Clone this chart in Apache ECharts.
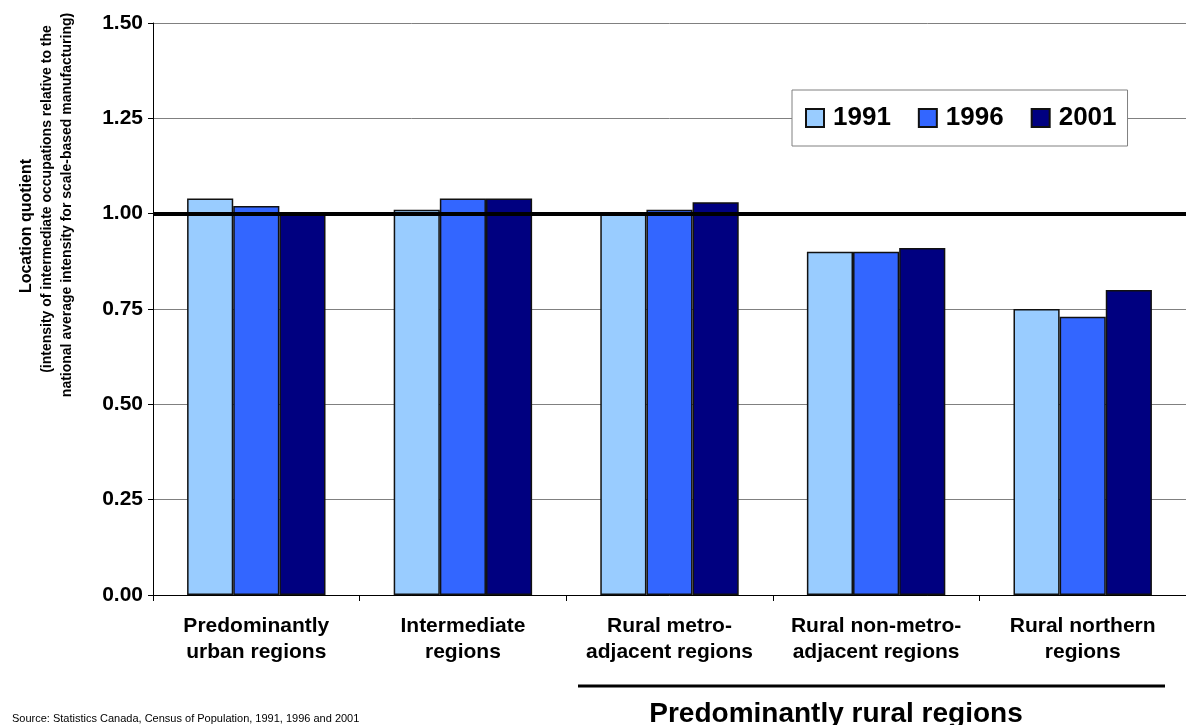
<!DOCTYPE html>
<html>
<head>
<meta charset="utf-8">
<script src="https://cdn.jsdelivr.net/npm/echarts@6/dist/echarts.min.js"></script>
<style>
  html, body { margin: 0; padding: 0; background: #ffffff; }
  #chart { width: 1186px; height: 725px; }
</style>
</head>
<body>
<div id="chart"></div>
<script>
// Region types along the horizontal axis
const categories = [
  'Predominantly\nurban regions',
  'Intermediate\nregions',
  'Rural metro-\nadjacent regions',
  'Rural non-metro-\nadjacent regions',
  'Rural northern\nregions'
];

// Location quotients by census year
const years = ['1991', '1996', '2001'];
const lq1991 = [1.04, 1.01, 1.00, 0.90, 0.75];
const lq1996 = [1.02, 1.04, 1.01, 0.90, 0.73];
const lq2001 = [1.00, 1.04, 1.03, 0.91, 0.80];

// National average reference
const nationalAverage = 1.00;

const yAxisTitleLines = [
  'Location quotient',
  '(intensity of intermediate occupations relative to the',
  'national average intensity for scale-based manufacturing)'
];
const groupTitle = 'Predominantly rural regions';
const sourceNote = 'Source: Statistics Canada, Census of Population, 1991, 1996 and 2001';

const colors = ['#99CCFF', '#3366FF', '#000080'];
const FONT = 'Arial, "Liberation Sans", Helvetica, sans-serif';

const chart = echarts.init(document.getElementById('chart'), null, { renderer: 'canvas' });

function barSeries(name, data, color, withRef) {
  const s = {
    name: name,
    type: 'bar',
    data: data,
    barGap: '0%',
    barCategoryGap: '33%',
    itemStyle: { color: color, borderColor: '#111111', borderWidth: 1.5 },
    emphasis: { disabled: true }
  };
  if (withRef) {
    s.markLine = {
      silent: true,
      symbol: ['none', 'none'],
      label: { show: false },
      lineStyle: { color: '#000000', width: 4, type: 'solid' },
      z: 10,
      data: [{ yAxis: nationalAverage }]
    };
  }
  return s;
}

// Rotated y-axis title, one text element per line
const titleLayout = [
  { x: 27, y: 226, font: 'bold 16px ' + FONT },
  { x: 47, y: 199, font: 'bold 14px ' + FONT },
  { x: 67, y: 205, font: 'bold 14px ' + FONT }
];
const yTitleGraphics = yAxisTitleLines.map((line, i) => ({
  type: 'text',
  x: titleLayout[i].x,
  y: titleLayout[i].y,
  rotation: Math.PI / 2,
  style: {
    text: line,
    font: titleLayout[i].font,
    fill: '#000000',
    textAlign: 'center',
    textVerticalAlign: 'middle'
  }
}));

const option = {
  animation: false,
  backgroundColor: '#ffffff',
  textStyle: { fontFamily: FONT },
  grid: { left: 153, top: 23, width: 1040, height: 572, containLabel: false },
  legend: {
    data: years,
    left: 792,
    top: 90,
    orient: 'horizontal',
    icon: 'rect',
    itemWidth: 18,
    itemHeight: 18,
    itemGap: 27,
    padding: [15, 11, 15, 13],
    backgroundColor: '#ffffff',
    borderColor: '#808080',
    borderWidth: 1,
    textStyle: { fontFamily: FONT, fontWeight: 'bold', fontSize: 26, color: '#000000', padding: [0, 0, 0, 4] }
  },
  xAxis: {
    type: 'category',
    data: categories,
    axisLine: { lineStyle: { color: '#000000', width: 1 } },
    axisTick: { show: true, alignWithLabel: false, length: 6, lineStyle: { color: '#000000' } },
    axisLabel: {
      interval: 0,
      margin: 18,
      fontFamily: FONT,
      fontWeight: 'bold',
      fontSize: 21,
      lineHeight: 26,
      color: '#000000',
      align: 'center'
    },
    splitLine: { show: false }
  },
  yAxis: {
    type: 'value',
    min: 0,
    max: 1.5,
    interval: 0.25,
    axisLine: { show: true, lineStyle: { color: '#000000', width: 1 } },
    axisTick: { show: true, length: 5, lineStyle: { color: '#000000' } },
    axisLabel: {
      margin: 10,
      fontFamily: FONT,
      fontWeight: 'bold',
      fontSize: 21,
      color: '#000000',
      formatter: v => v.toFixed(2)
    },
    splitLine: { show: true, lineStyle: { color: '#808080', width: 1 } }
  },
  series: [
    barSeries(years[0], lq1991, colors[0], false),
    barSeries(years[1], lq1996, colors[1], false),
    barSeries(years[2], lq2001, colors[2], true)
  ],
  graphic: yTitleGraphics.concat([
    {
      type: 'line',
      shape: { x1: 578, y1: 686, x2: 1165, y2: 686 },
      style: { stroke: '#000000', lineWidth: 3 }
    },
    {
      type: 'text',
      x: 836,
      y: 700,
      style: {
        text: groupTitle,
        font: 'bold 28px ' + FONT,
        fill: '#000000',
        textAlign: 'center',
        textVerticalAlign: 'top'
      }
    },
    {
      type: 'text',
      x: 12,
      y: 713,
      style: {
        text: sourceNote,
        font: '11px ' + FONT,
        fill: '#000000',
        textAlign: 'left',
        textVerticalAlign: 'top'
      }
    }
  ])
};

chart.setOption(option);
</script>
</body>
</html>
